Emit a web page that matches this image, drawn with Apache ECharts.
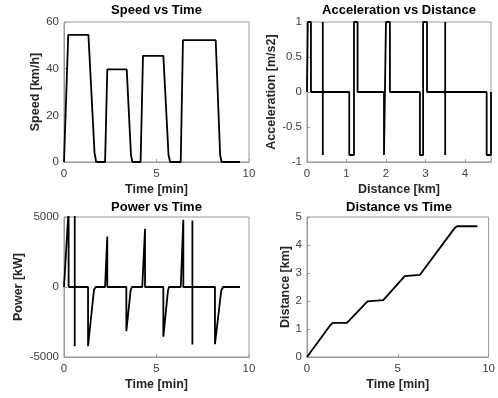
<!DOCTYPE html>
<html>
<head>
<meta charset="utf-8">
<script src="https://cdn.jsdelivr.net/npm/echarts@6/dist/echarts.min.js"></script>
<style>html,body{margin:0;padding:0;background:#fff}#c{width:498px;height:398px}</style>
</head>
<body>
<div id="c"></div>
<script>
// Speed vs Time
var speedT = [0, 0.23, 1.32, 1.65, 1.74, 2.22, 2.34, 3.39, 3.62, 3.70, 4.14, 4.27, 5.37, 5.65, 5.74, 6.31, 6.43, 8.20, 8.44, 8.52, 9.51];
var speedV = [0, 54.5, 54.5, 4, 0, 0, 39.7, 39.7, 3, 0, 0, 45.5, 45.5, 3, 0, 0, 52.2, 52.2, 3, 0, 0];
// Acceleration vs Distance
var accD = [0, 0.02, 0.02, 0.10, 0.10, 0.40, 0.40, 0.40, 0.40, 1.07, 1.07, 1.19, 1.19, 1.28, 1.28, 1.95, 1.95, 2.00, 2.00, 2.10, 2.10, 2.86, 2.86, 2.94, 2.94, 3.04, 3.04, 3.50, 3.50, 3.50, 3.50, 4.55, 4.55, 4.66, 4.66];
var accA = [0, 0, 1, 1, 0, 0, 1, -0.9, 0, 0, -0.9, -0.9, 1, 1, 0, 0, -0.9, -0.9, 1, 1, 0, 0, -0.9, -0.9, 1, 1, 0, 0, 1, -0.9, 0, 0, -0.9, -0.9, 0];
// Power vs Time
var powT = [0, 0.25, 0.25, 0.58, 0.58, 0.58, 0.58, 1.30, 1.30, 1.62, 1.71, 2.22, 2.34, 2.34, 3.37, 3.37, 3.60, 3.67, 4.23, 4.38, 4.38, 5.37, 5.37, 5.62, 5.68, 6.31, 6.45, 6.45, 6.94, 6.94, 6.94, 6.94, 8.16, 8.16, 8.50, 8.60, 9.51];
var powP = [0, 5600, 0, 0, 6000, -4230, 0, 0, -4230, -200, 0, 0, 3600, 0, 0, -3150, -250, 0, 0, 4150, 0, 0, -3550, -250, 0, 0, 4800, 0, 0, 4750, -4100, 0, 0, -4090, -250, 0, 0];
// Distance vs Time
var distT = [0, 0.10, 1.30, 1.42, 2.20, 2.30, 3.33, 3.42, 4.20, 4.30, 5.38, 5.48, 6.21, 6.32, 8.15, 8.27, 9.38];
var distV = [0, 0.03, 1.15, 1.22, 1.22, 1.25, 1.99, 2.03, 2.03, 2.07, 2.89, 2.93, 2.93, 2.98, 4.62, 4.67, 4.67];

var titles = ['Speed vs Time', 'Acceleration vs Distance', 'Power vs Time', 'Distance vs Time'];
var xNames = ['Time [min]', 'Distance [km]', 'Time [min]', 'Time [min]'];
var yNames = ['Speed [km/h]', 'Acceleration [m/s2]', 'Power [kW]', 'Distance [km]'];

function pairs(a, b) { return a.map(function (v, i) { return [v, b[i]]; }); }

var FONT = '"Liberation Sans", Arial, Helvetica, sans-serif';
var FRAME = '#9a9a9a';
var grids = [
  {left: 64, top: 22, width: 185, height: 140},
  {left: 307, top: 22, width: 184, height: 140},
  {left: 64, top: 217, width: 185, height: 140},
  {left: 307, top: 217, width: 184, height: 140}
];
var xRanges = [[0, 10, 5], [0, 4.66, 1], [0, 10, 5], [0, 10, 5]];
var yRanges = [[0, 60, 20], [-1, 1, 0.5], [-5000, 5000, 5000], [0, 5, 1]];
var yGaps = [21, 26, 39, 15];
var titleTops = [4, 4, 201, 201];

function axisCommon() {
  return {
    axisLine: {show: true, onZero: false, lineStyle: {color: FRAME, width: 1}},
    axisTick: {show: true, inside: true, length: 3, lineStyle: {color: FRAME}},
    splitLine: {show: false},
    nameTextStyle: {fontFamily: FONT, fontWeight: 'bold', fontSize: 12.5, color: '#262626'}
  };
}

var option = {
  animation: false,
  backgroundColor: '#fff',
  title: titles.map(function (t, i) {
    return {text: t, left: grids[i].left + grids[i].width / 2, top: titleTops[i], textAlign: 'center', padding: 0,
      textStyle: {fontFamily: FONT, fontWeight: 'bold', fontSize: 13, color: '#000'}};
  }),
  grid: grids.map(function (g) {
    return Object.assign({show: true, borderColor: FRAME, borderWidth: 1, backgroundColor: 'transparent', containLabel: false}, g);
  }),
  xAxis: xRanges.map(function (r, i) {
    var a = axisCommon();
    return Object.assign(a, {
      type: 'value', gridIndex: i, min: r[0], max: r[1], interval: r[2],
      name: xNames[i], nameLocation: 'middle', nameGap: 21,
      axisLabel: {margin: 6, fontFamily: FONT, fontSize: 11.5, color: '#404040',
        formatter: function (v) { return (Math.abs(v - Math.round(v / r[2]) * r[2]) < 1e-9) ? String(v) : ''; }}
    });
  }),
  yAxis: yRanges.map(function (r, i) {
    var a = axisCommon();
    return Object.assign(a, {
      type: 'value', gridIndex: i, min: r[0], max: r[1], interval: r[2],
      name: yNames[i], nameLocation: 'middle', nameGap: yGaps[i],
      axisLabel: {margin: 5, fontFamily: FONT, fontSize: 11.5, color: '#404040',
        formatter: function (v) { return String(v); }}
    });
  }),
  series: [
    pairs(speedT, speedV), pairs(accD, accA), pairs(powT, powP), pairs(distT, distV)
  ].map(function (d, i) {
    return {type: 'line', xAxisIndex: i, yAxisIndex: i, data: d, symbol: 'none', clip: true,
      lineStyle: {color: '#000', width: 1.8}};
  })
};

var chart = echarts.init(document.getElementById('c'), null, {renderer: 'canvas'});
chart.setOption(option);
</script>
</body>
</html>
